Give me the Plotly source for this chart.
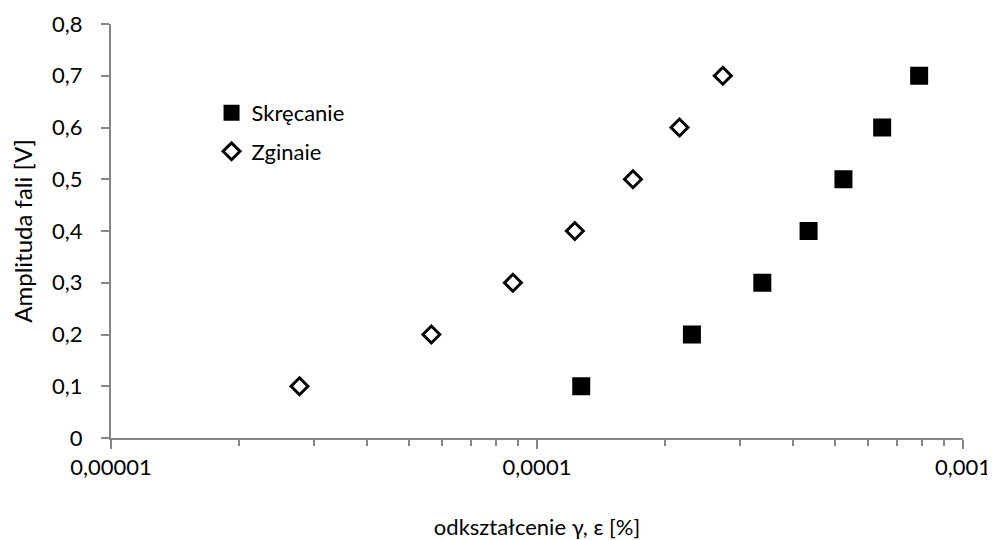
import plotly.graph_objects as go

skrecanie_x = [1.27e-4, 2.31e-4, 3.38e-4, 4.34e-4, 5.24e-4, 6.46e-4, 7.89e-4]
skrecanie_y = [0.1, 0.2, 0.3, 0.4, 0.5, 0.6, 0.7]
zginaie_x = [2.77e-5, 5.65e-5, 8.78e-5, 1.227e-4, 1.68e-4, 2.16e-4, 2.73e-4]
zginaie_y = [0.1, 0.2, 0.3, 0.4, 0.5, 0.6, 0.7]

x_tickvals = [1e-5, 1e-4, 1e-3]
x_ticktext = ["0,00001", "0,0001", "0,001"]
y_tickvals = [0, 0.1, 0.2, 0.3, 0.4, 0.5, 0.6, 0.7, 0.8]
y_ticktext = ["0", "0,1", "0,2", "0,3", "0,4", "0,5", "0,6", "0,7", "0,8"]

FONT = "Lato"
AX = "#868686"

fig = go.Figure()
fig.add_trace(go.Scatter(
    x=skrecanie_x, y=skrecanie_y, mode="markers", name="Skręcanie",
    legendgroup="a",
    marker=dict(symbol="square", size=18, color="black"),
))
fig.add_trace(go.Scatter(
    x=zginaie_x, y=zginaie_y, mode="markers", name="Zginaie",
    legendgroup="b",
    marker=dict(symbol="diamond-open", size=13, color="black",
                line=dict(width=3, color="black")),
))

fig.update_layout(
    width=985, height=532,
    margin=dict(l=103, r=30, t=16, b=102),
    paper_bgcolor="white", plot_bgcolor="white",
    font=dict(family=FONT, size=22, color="black"),
    showlegend=True,
    legend=dict(x=0.118, y=0.836, xanchor="left", yanchor="top",
                bgcolor="rgba(0,0,0,0)", font=dict(size=22),
                itemwidth=30, tracegroupgap=7),
    xaxis=dict(
        type="log", range=[-5, -3], automargin=False,
        tickmode="array", tickvals=x_tickvals, ticktext=x_ticktext,
        ticks="outside", ticklen=9, tickwidth=2, tickcolor=AX,
        showline=True, linecolor=AX, linewidth=2,
        showgrid=False, zeroline=False,
        ticklabelstandoff=0, ticklabeloverflow="allow",
        minor=dict(ticks="outside", ticklen=6, tickwidth=2, tickcolor=AX,
                   dtick="D1", showgrid=False),
        title=dict(text="odkształcenie γ, ε [%]", font=dict(size=22), standoff=43),
    ),
    yaxis=dict(
        range=[0, 0.8], automargin=False,
        tickmode="array", tickvals=y_tickvals, ticktext=y_ticktext,
        ticks="outside", ticklen=8, tickwidth=2, tickcolor=AX,
        showline=True, linecolor=AX, linewidth=2,
        showgrid=False, zeroline=False,
        ticklabelstandoff=14, ticklabeloverflow="allow",
        title=dict(text="Amplituda fali [V]", font=dict(size=24), standoff=19),
    ),
)

fig.write_html("out.html")
